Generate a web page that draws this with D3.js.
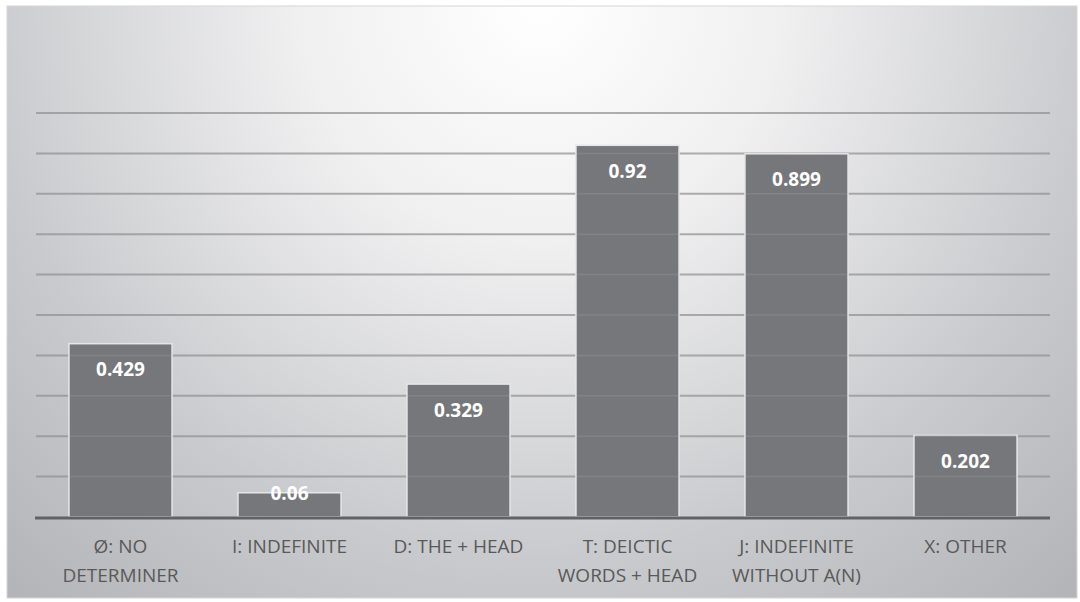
<!DOCTYPE html>
<html>
<head>
<meta charset="utf-8">
<script src="https://cdn.jsdelivr.net/npm/d3@7"></script>
<style>
  html, body { margin: 0; padding: 0; background: #ffffff; }
  svg { display: block; }
</style>
</head>
<body>
<svg id="chart" width="1080" height="602"></svg>
<script>
// Category labels (line breaks mark where the axis label wraps)
const categories = [
  "Ø: NO\nDETERMINER",
  "I: INDEFINITE",
  "D: THE + HEAD",
  "T: DEICTIC\nWORDS + HEAD",
  "J: INDEFINITE\nWITHOUT A(N)",
  "X: OTHER"
];
const values = [0.429, 0.06, 0.329, 0.92, 0.899, 0.202];
const valueLabels = ["0.429", "0.06", "0.329", "0.92", "0.899", "0.202"];
const gridTicks = [0, 0.1, 0.2, 0.3, 0.4, 0.5, 0.6, 0.7, 0.8, 0.9, 1.0];

const svg = d3.select("#chart");
const W = 1080, H = 602;
const frame = { x: 7, y: 6, w: 1070, h: 592 };
const plot = { left: 36, right: 1050, top: 113, bottom: 517 };

// background: soft radial gradient, bright at the top centre
const defs = svg.append("defs");
const grad = defs.append("radialGradient")
  .attr("id", "bg")
  .attr("gradientUnits", "userSpaceOnUse")
  .attr("cx", 540).attr("cy", 0).attr("r", 800);
[[0, "#ffffff"], [0.3, "#f0f0f1"], [0.7, "#c9cacd"], [1, "#b3b4b8"]]
  .forEach(([o, c]) => grad.append("stop").attr("offset", o).attr("stop-color", c));

svg.append("rect")
  .attr("x", frame.x).attr("y", frame.y)
  .attr("width", frame.w).attr("height", frame.h)
  .attr("fill", "url(#bg)")
  .attr("stroke", "#d6d6d6").attr("stroke-width", 1);

const x = d3.scaleBand()
  .domain(categories)
  .range([plot.left, plot.right])
  .paddingInner(0.39)
  .paddingOuter(0.195);

const y = d3.scaleLinear()
  .domain([0, 1])
  .range([plot.bottom, plot.top]);

// horizontal gridlines
svg.append("g")
  .selectAll("line")
  .data(gridTicks.filter(t => t > 0))
  .join("line")
  .attr("x1", plot.left).attr("x2", plot.right)
  .attr("y1", d => y(d)).attr("y2", d => y(d))
  .attr("stroke", "#8e8e90")
  .attr("stroke-opacity", 0.7)
  .attr("stroke-width", 2);

// bars
svg.append("g")
  .selectAll("rect")
  .data(values)
  .join("rect")
  .attr("x", (d, i) => x(categories[i]))
  .attr("y", d => y(d))
  .attr("width", x.bandwidth())
  .attr("height", d => y(0) - y(d))
  .attr("fill", "#76777b")
  .attr("stroke", "#e6e6e6")
  .attr("stroke-width", 1.5);

// gridlines show faintly through the bars
svg.append("g")
  .selectAll("line")
  .data(values)
  .join("g")
  .each(function(v, i) {
    d3.select(this).selectAll("line")
      .data(gridTicks.filter(t => t > 0 && t < v))
      .join("line")
      .attr("x1", x(categories[i]) + 1).attr("x2", x(categories[i]) + x.bandwidth() - 1)
      .attr("y1", d => y(d)).attr("y2", d => y(d))
      .attr("stroke", "#8a8b8f")
      .attr("stroke-opacity", 0.6)
      .attr("stroke-width", 1.5);
  });

// baseline
svg.append("line")
  .attr("x1", plot.left - 1).attr("x2", plot.right)
  .attr("y1", y(0) + 1).attr("y2", y(0) + 1)
  .attr("stroke", "#626265")
  .attr("stroke-width", 3);

// value labels inside the top of each bar
svg.append("g")
  .selectAll("text")
  .data(values)
  .join("text")
  .attr("x", (d, i) => x(categories[i]) + x.bandwidth() / 2)
  .attr("y", d => Math.min(y(d) + 26, (y(d) + y(0)) / 2 - 12))
  .attr("dy", "0.35em")
  .attr("text-anchor", "middle")
  .attr("font-family", "'Open Sans', sans-serif")
  .attr("font-weight", "bold")
  .attr("font-size", 19)
  .attr("fill", "#ffffff")
  .text((d, i) => valueLabels[i]);

// category axis labels
const labels = svg.append("g")
  .selectAll("text")
  .data(categories)
  .join("text")
  .attr("x", d => x(d) + x.bandwidth() / 2)
  .attr("y", 553)
  .attr("text-anchor", "middle")
  .attr("font-family", "'Open Sans', sans-serif")
  .attr("font-size", 19)
  .attr("fill", "#595959");
labels.selectAll("tspan")
  .data(d => d.split("\n"))
  .join("tspan")
  .attr("x", function() { return this.parentNode.getAttribute("x"); })
  .attr("dy", (d, i) => i === 0 ? 0 : 29)
  .text(d => d);
</script>
</body>
</html>
